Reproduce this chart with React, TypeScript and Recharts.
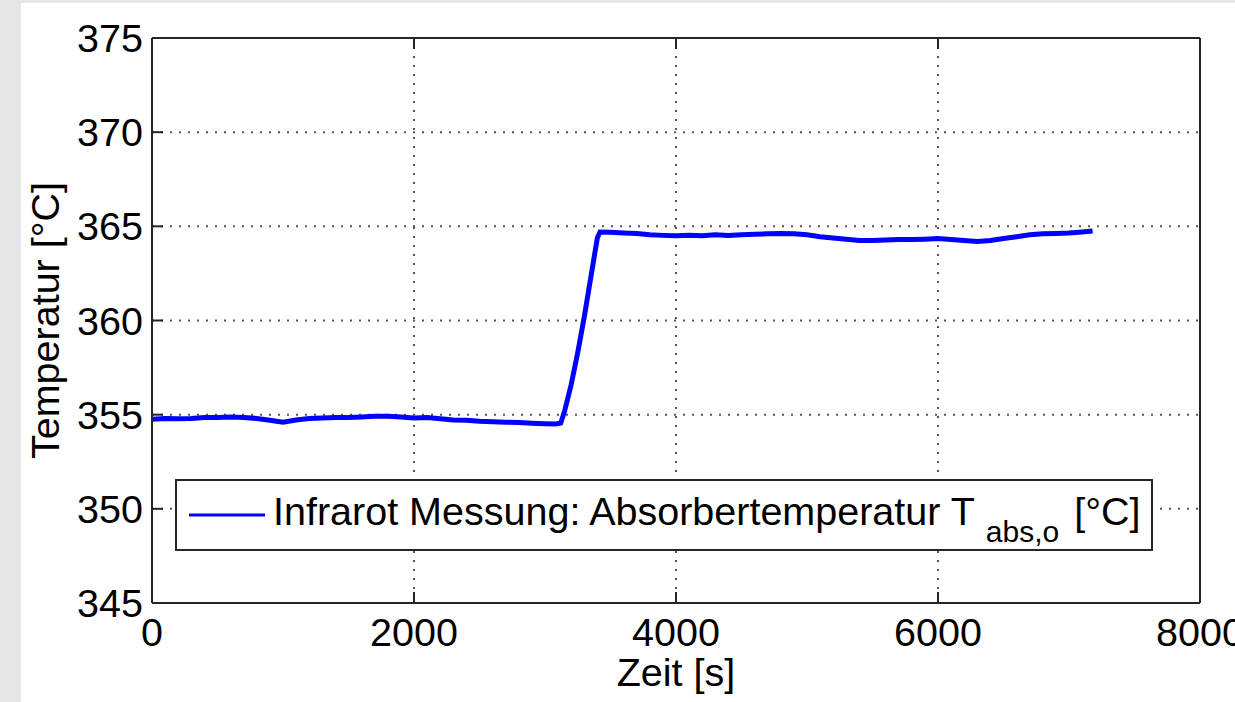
import React from "react";
import { LineChart, Line, XAxis, YAxis, CartesianGrid, Legend, Label } from "recharts";

const timeSeconds = [
  0, 100, 200, 300, 400, 500, 600, 700, 800, 900, 1000, 1100, 1200, 1300, 1400, 1500,
  1600, 1700, 1800, 1900, 2000, 2100, 2200, 2300, 2400, 2500, 2600, 2700, 2800, 2900,
  3000, 3080, 3120, 3150, 3200, 3250, 3300, 3350, 3400, 3420, 3500, 3600, 3700, 3800,
  3900, 4000, 4100, 4200, 4300, 4400, 4500, 4600, 4700, 4800, 4900, 5000, 5100, 5200,
  5300, 5400, 5500, 5600, 5700, 5800, 5900, 6000, 6100, 6200, 6300, 6400, 6500, 6600,
  6700, 6800, 6900, 7000, 7100, 7180,
];

const temperature = [
  354.75, 354.8, 354.78, 354.8, 354.85, 354.85, 354.88, 354.85, 354.8, 354.7, 354.6,
  354.72, 354.8, 354.82, 354.85, 354.85, 354.88, 354.92, 354.92, 354.88, 354.82, 354.85,
  354.78, 354.72, 354.7, 354.65, 354.62, 354.6, 354.58, 354.55, 354.52, 354.5, 354.55,
  355.2, 356.6, 358.3, 360.2, 362.3, 364.4, 364.7, 364.68, 364.65, 364.62, 364.55,
  364.52, 364.5, 364.52, 364.5, 364.55, 364.52, 364.55, 364.58, 364.6, 364.62, 364.6,
  364.55, 364.45, 364.38, 364.32, 364.25, 364.25, 364.28, 364.3, 364.3, 364.32, 364.35,
  364.3, 364.25, 364.2, 364.25, 364.35, 364.45, 364.55, 364.6, 364.62, 364.65, 364.7,
  364.75,
];

const xTicks = [0, 2000, 4000, 6000, 8000];
const yTicks = [345, 350, 355, 360, 365, 370, 375];

const seriesName = "Infrarot Messung: Absorbertemperatur T";
const seriesSub = "abs,o";
const seriesUnit = " [°C]";
const xLabel = "Zeit [s]";
const yLabel = "Temperatur [°C]";

const data = timeSeconds.map((t, i) => ({ t, temp: temperature[i] }));

const FONT = "'Liberation Sans', Arial, sans-serif";
const FS = 39.5;
const AXIS = "#262626";
const TICK_LEN = 11;
const X_MARGIN = 15;
const Y_MARGIN = 9;

const renderLegend = () => (
  <div
    style={{
      width: 978,
      height: 72,
      border: `2px solid ${AXIS}`,
      background: "#fff",
      boxSizing: "border-box",
    }}
  >
    <svg width={974} height={68} style={{ display: "block" }}>
      <line x1={12} x2={88} y1={34} y2={34} stroke="#0000ff" strokeWidth={3} />
      <text x={96} y={44} fontFamily={FONT} fontSize={FS} fill="#000">
        {seriesName}
        <tspan dx={11} dy={17} fontSize={30}>
          {seriesSub}
        </tspan>
        <tspan dx={4} dy={-17} fontSize={FS}>
          {seriesUnit}
        </tspan>
      </text>
    </svg>
  </div>
);

const XLabelContent = (props: any) => {
  const vb = props.viewBox || {};
  return (
    <text
      x={vb.x + vb.width / 2}
      y={vb.y + 83}
      textAnchor="middle"
      fontFamily={FONT}
      fontSize={FS}
      fill="#000"
    >
      {xLabel}
    </text>
  );
};

const YLabelContent = (props: any) => {
  const vb = props.viewBox || {};
  const cx = vb.x + 59;
  const cy = vb.y + vb.height / 2;
  return (
    <text
      x={cx}
      y={cy}
      textAnchor="middle"
      transform={`rotate(-90, ${cx}, ${cy})`}
      fontFamily={FONT}
      fontSize={FS}
      fill="#000"
    >
      {yLabel}
    </text>
  );
};

const BottomTick = (props: any) => {
  const { x, y, payload } = props;
  const edge = y - X_MARGIN;
  return (
    <g>
      <line x1={x} x2={x} y1={edge} y2={edge - TICK_LEN} stroke={AXIS} strokeWidth={2} />
      <text
        x={x}
        y={y}
        dy="0.71em"
        textAnchor="middle"
        fontFamily={FONT}
        fontSize={FS}
        fill="#000"
      >
        {payload.value}
      </text>
    </g>
  );
};

const TopTick = (props: any) => {
  const { x, y } = props;
  return <line x1={x} x2={x} y1={y} y2={y + TICK_LEN} stroke={AXIS} strokeWidth={2} />;
};

const LeftTick = (props: any) => {
  const { x, y, payload } = props;
  const edge = x + Y_MARGIN;
  return (
    <g>
      <line x1={edge} x2={edge + TICK_LEN} y1={y} y2={y} stroke={AXIS} strokeWidth={2} />
      <text
        x={x}
        y={y}
        dy="0.355em"
        textAnchor="end"
        fontFamily={FONT}
        fontSize={FS}
        fill="#000"
      >
        {payload.value}
      </text>
    </g>
  );
};

const RightTick = (props: any) => {
  const { x, y } = props;
  return <line x1={x} x2={x - TICK_LEN} y1={y} y2={y} stroke={AXIS} strokeWidth={2} />;
};

const frameLine = { stroke: AXIS, strokeWidth: 2 };

export default function App() {
  return (
    <div
      style={{
        position: "absolute",
        left: 0,
        top: 0,
        width: 1235,
        height: 702,
        background: "#e6e6e6",
        overflow: "hidden",
      }}
    >
      <div
        style={{
          position: "absolute",
          left: 21,
          top: 3,
          right: 0,
          bottom: 0,
          background: "#fff",
        }}
      />
      <div style={{ position: "absolute", left: 0, top: 0 }}>
        <LineChart
          width={1235}
          height={702}
          data={data}
          margin={{ top: 0, right: 0, bottom: 0, left: 0 }}
          style={{ fontFamily: FONT }}
        >
          <CartesianGrid stroke="#555" strokeDasharray="2 7" strokeWidth={2} />
          <XAxis
            dataKey="t"
            type="number"
            domain={[0, 8000]}
            ticks={xTicks}
            interval={0}
            height={99}
            tickSize={0}
            tickMargin={X_MARGIN}
            axisLine={frameLine}
            tickLine={false}
            tick={<BottomTick />}
            allowDataOverflow
          >
            <Label content={<XLabelContent />} />
          </XAxis>
          <XAxis
            xAxisId="top"
            orientation="top"
            dataKey="t"
            type="number"
            domain={[0, 8000]}
            ticks={xTicks}
            interval={0}
            height={38}
            tickSize={0}
            tickMargin={0}
            tick={<TopTick />}
            tickLine={false}
            axisLine={frameLine}
          />
          <YAxis
            type="number"
            domain={[345, 375]}
            ticks={yTicks}
            interval={0}
            width={152}
            tickSize={0}
            tickMargin={Y_MARGIN}
            axisLine={frameLine}
            tickLine={false}
            tick={<LeftTick />}
            allowDataOverflow
          >
            <Label content={<YLabelContent />} />
          </YAxis>
          <YAxis
            yAxisId="right"
            orientation="right"
            type="number"
            domain={[345, 375]}
            ticks={yTicks}
            interval={0}
            width={35}
            tickSize={0}
            tickMargin={0}
            tick={<RightTick />}
            tickLine={false}
            axisLine={frameLine}
          />
          <Legend
            layout="horizontal"
            verticalAlign="middle"
            align="center"
            content={renderLegend}
            wrapperStyle={{ position: "absolute", left: 175, top: 479, width: 978, height: 72 }}
          />
          <Line
            type="linear"
            dataKey="temp"
            stroke="#0000ff"
            strokeWidth={5}
            dot={false}
            isAnimationActive={false}
          />
        </LineChart>
      </div>
    </div>
  );
}
